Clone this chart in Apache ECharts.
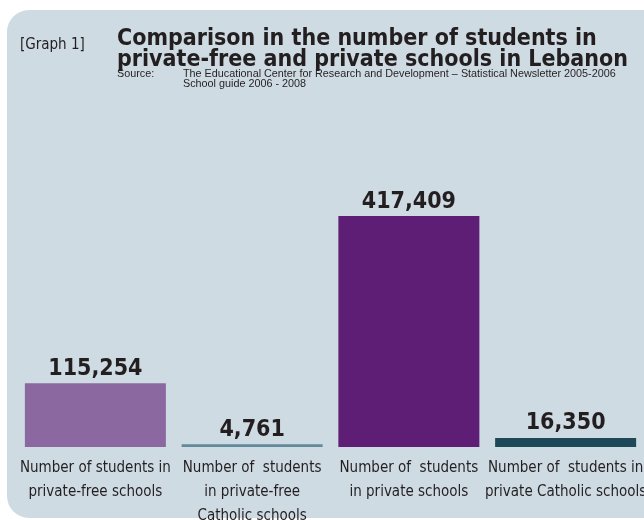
<!DOCTYPE html>
<html>
<head>
<meta charset="utf-8">
<script src="https://cdn.jsdelivr.net/npm/echarts@6/dist/echarts.min.js"></script>
<style>
  html, body { margin: 0; padding: 0; background: #ffffff; }
  #chart { width: 644px; height: 520px; }
</style>
</head>
<body>
<div id="chart"></div>
<script>
// Student counts by school type
const categories = [
  'Number of students in\nprivate-free schools',
  'Number of  students\nin private-free\nCatholic schools',
  'Number of  students\nin private schools',
  'Number of  students in\nprivate Catholic schools'
];
const studentCounts = [115254, 4761, 417409, 16350];
const barColors = ['#8b68a0', '#62899a', '#5e1e76', '#1c4858'];

const NARROW = '"DejaVu Sans Condensed", "Liberation Sans Narrow", sans-serif';
const REGULAR = '"Liberation Sans", Arial, sans-serif';
const INK = '#231f20';

const chart = echarts.init(document.getElementById('chart'), null, { renderer: 'canvas' });

chart.setOption({
  backgroundColor: '#ffffff',
  animation: false,
  graphic: [
    {
      type: 'rect', z: -10, silent: true,
      shape: { x: 7, y: 10, width: 665, height: 508, r: 22 },
      style: { fill: '#cfdbe3' }
    },
    {
      type: 'text', left: 20, top: 38,
      style: { text: '[Graph 1]', font: '15px ' + NARROW, fill: INK }
    },
    {
      type: 'text', left: 117, top: 28,
      style: {
        text: 'Comparison in the number of students in\nprivate-free and private schools in Lebanon',
        font: 'bold 23px ' + NARROW, lineHeight: 21, fill: INK
      }
    },
    {
      type: 'text', left: 117, top: 69,
      style: { text: 'Source:', font: '10.8px ' + REGULAR, fill: INK }
    },
    {
      type: 'text', left: 183, top: 69,
      style: {
        text: 'The Educational Center for Research and Development \u2013 Statistical Newsletter 2005-2006\nSchool guide 2006 - 2008',
        font: '10.8px ' + REGULAR, lineHeight: 10, fill: INK
      }
    }
  ],
  grid: {
    left: 17, width: 627, top: 115, bottom: 73,
    containLabel: false, outerBoundsMode: 'none'
  },
  xAxis: {
    type: 'category',
    data: categories,
    axisLine: { show: false },
    axisTick: { show: false },
    axisLabel: {
      interval: 0, margin: 9,
      fontFamily: NARROW, fontSize: 15, lineHeight: 24, color: INK
    }
  },
  yAxis: {
    type: 'value', min: 0, max: 600000,
    show: false, splitLine: { show: false }
  },
  series: [{
    type: 'bar',
    barWidth: 141,
    data: studentCounts.map((v, i) => ({ value: v, itemStyle: { color: barColors[i] } })),
    label: {
      show: true, position: 'top', distance: 3,
      fontFamily: NARROW, fontWeight: 'bold', fontSize: 23, lineHeight: 23, color: INK,
      formatter: p => p.value.toLocaleString('en-US')
    }
  }]
});
</script>
</body>
</html>
